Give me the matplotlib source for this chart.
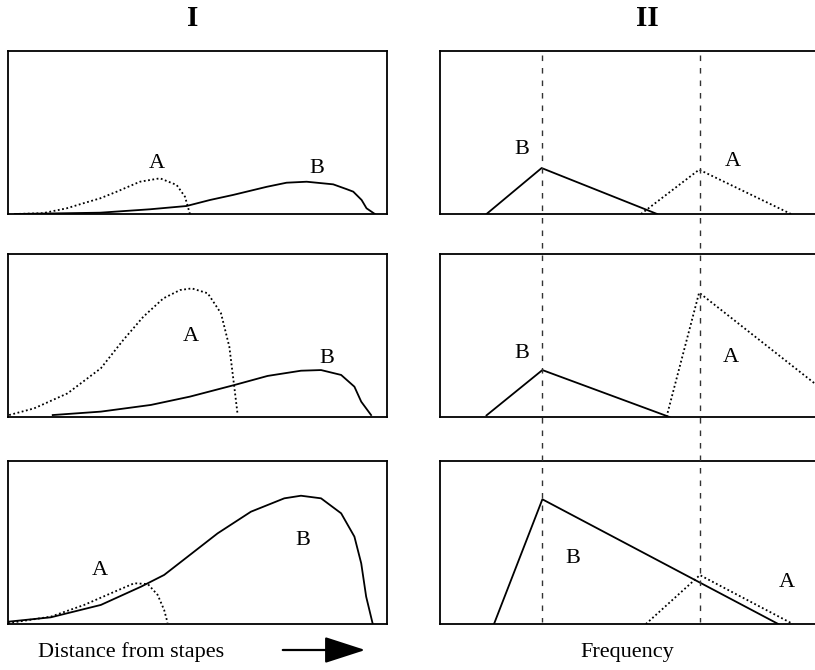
import matplotlib
matplotlib.use("Agg")
import matplotlib.pyplot as plt
import matplotlib.transforms as mtransforms
from matplotlib.lines import Line2D
from matplotlib.patches import FancyArrowPatch

plt.rcParams['font.family'] = ['Liberation Serif', 'DejaVu Serif']

# ---------------- data ----------------
# Panel I (distance along basilar membrane), curves A (dotted) and B (solid)
I1_A_x = [1.8, 9.2, 15.5, 19.9, 24.3, 28.7, 34.8, 40.1, 44.5, 46.7, 48.0]
I1_A_y = [0.0, 0.5, 3.5, 6.6, 9.6, 13.7, 19.8, 21.9, 17.8, 10.6, 0.0]
I1_B_x = [1.8, 24.3, 37.5, 47.1, 53.3, 59.4, 68.3, 73.5, 78.8, 85.8, 89.4, 91.1, 93.3, 94.6, 96.8]
I1_B_y = [0.0, 0.8, 2.9, 4.9, 8.6, 11.7, 16.7, 19.2, 19.8, 18.2, 15.2, 13.7, 8.6, 3.5, 0.0]

I2_A_x = [0.3, 6.9, 15.7, 24.5, 30.4, 35.7, 41.0, 45.4, 48.5, 52.7, 56.2, 58.4, 59.7, 60.6]
I2_A_y = [1.2, 5.3, 14.5, 29.9, 47.2, 61.5, 72.8, 77.9, 78.9, 75.9, 63.6, 43.1, 18.6, 1.2]
I2_B_x = [11.8, 24.5, 37.7, 48.0, 59.7, 68.5, 77.3, 82.6, 87.9, 91.4, 93.2, 95.8]
I2_B_y = [1.2, 3.3, 7.4, 12.5, 19.6, 25.2, 28.4, 28.8, 25.8, 18.6, 9.4, 1.2]

I3_A_x = [0.0, 11.3, 20.1, 27.2, 33.3, 36.9, 39.5, 41.2, 42.1]
I3_A_y = [0.5, 4.5, 11.7, 18.9, 25.0, 24.5, 17.8, 8.6, 0.8]
I3_B_x = [0.0, 11.3, 24.5, 35.1, 41.2, 47.4, 55.3, 64.1, 72.9, 77.3, 82.6, 87.9, 91.4, 93.2, 94.5, 96.2]
I3_B_y = [1.4, 4.1, 11.7, 22.9, 30.1, 41.3, 55.6, 68.9, 77.1, 78.7, 77.1, 67.9, 53.6, 37.2, 16.8, 0.4]

# Panel II (frequency), triangular tuning curves
II1_B_x = [12.4, 27.1, 57.9]
II1_B_y = [0.0, 28.2, 0.0]
II1_A_x = [53.6, 69.1, 93.6]
II1_A_y = [0.0, 27.2, 0.0]

II2_B_x = [12.4, 27.3, 61.2]
II2_B_y = [1.0, 28.8, 0.0]
II2_A_x = [60.4, 69.1, 111.3]
II2_A_y = [0.0, 76.3, 0.0]

II3_B_x = [14.4, 27.3, 90.2]
II3_B_y = [0.0, 76.5, 0.0]
II3_A_x = [54.9, 69.3, 94.1]
II3_A_y = [0.0, 30.0, 0.0]

# best frequencies of B and A (vertical reference lines)
best_freq = [27.2, 69.2]

# label positions (x, y) for "A" and "B"
I_labels = [((39.2, 31.1), (81.5, 28.0)),
            ((48.2, 49.3), (84.1, 36.0)),
            ((24.3, 33.1), (77.8, 51.5))]
II_labels = [((78.0, 32.5), (21.8, 39.3)),
             ((77.6, 36.4), (21.8, 38.8)),
             ((92.4, 25.5), (35.4, 40.0))]

column_titles = ["I", "II"]
xlabels = ["Distance from stapes", "Frequency"]

I_curves = [(I1_A_x, I1_A_y, I1_B_x, I1_B_y),
            (I2_A_x, I2_A_y, I2_B_x, I2_B_y),
            (I3_A_x, I3_A_y, I3_B_x, I3_B_y)]
II_curves = [(II1_A_x, II1_A_y, II1_B_x, II1_B_y),
             (II2_A_x, II2_A_y, II2_B_x, II2_B_y),
             (II3_A_x, II3_A_y, II3_B_x, II3_B_y)]

# ---------------- figure ----------------
W, H = 815, 670
fig = plt.figure(figsize=(W / 100, H / 100), dpi=100)

rows_px = [(51, 214), (254, 417), (461, 624)]
left_px = (8, 387)
right_px = (440, 815)

def add_ax(xpx, ypx):
    x0, x1 = xpx
    t, b = ypx
    return fig.add_axes([x0 / W, 1 - b / H, (x1 - x0) / W, (b - t) / H])

dotted = (0, (1.0, 1.4))
lw = 1.3
fs = 16

left_axes, right_axes = [], []
for r, ypx in enumerate(rows_px):
    axL = add_ax(left_px, ypx)
    axR = add_ax(right_px, ypx)
    for ax in (axL, axR):
        ax.set_xlim(0, 100)
        ax.set_ylim(0, 100)
        ax.set_xticks([])
        ax.set_yticks([])
        for s in ax.spines.values():
            s.set_linewidth(1.3)
            s.set_color('black')
    axR.spines['right'].set_visible(False)

    ax_, ay_, bx_, by_ = I_curves[r]
    axL.plot(ax_, ay_, color='black', lw=lw, ls=dotted, solid_joinstyle='round')
    axL.plot(bx_, by_, color='black', lw=lw, solid_joinstyle='round')
    (pa, pb) = I_labels[r]
    axL.text(pa[0], pa[1], "A", fontsize=fs, ha='center', va='center')
    axL.text(pb[0], pb[1], "B", fontsize=fs, ha='center', va='center')

    ax_, ay_, bx_, by_ = II_curves[r]
    axR.plot(ax_, ay_, color='black', lw=lw, ls=dotted)
    axR.plot(bx_, by_, color='black', lw=lw)
    (pa, pb) = II_labels[r]
    axR.text(pa[0], pa[1], "A", fontsize=fs, ha='center', va='center')
    axR.text(pb[0], pb[1], "B", fontsize=fs, ha='center', va='center')

    left_axes.append(axL)
    right_axes.append(axR)

# vertical dashed lines spanning all right panels
trans = mtransforms.blended_transform_factory(right_axes[0].transData, fig.transFigure)
for f in best_freq:
    fig.add_artist(Line2D([f, f], [1 - 55 / H, 1 - 622 / H], transform=trans,
                          color='#333333', lw=1.0, ls=(0, (4, 5))))

# column titles
fig.text(193 / W, 1 - 18 / H, column_titles[0], fontsize=21, fontweight='bold',
         ha='center', va='center')
fig.text(647 / W, 1 - 18 / H, column_titles[1], fontsize=21, fontweight='bold',
         ha='center', va='center')

# bottom labels
fig.text(131 / W, 1 - 652 / H, xlabels[0], fontsize=16, ha='center', va='center')
fig.text(627 / W, 1 - 652 / H, xlabels[1], fontsize=16, ha='center', va='center')

arrow = FancyArrowPatch((280 / W, 1 - 650 / H), (368 / W, 1 - 650 / H),
                        transform=fig.transFigure,
                        arrowstyle='-|>,head_length=1.7,head_width=0.55',
                        mutation_scale=15, color='black', lw=1.6)
fig.add_artist(arrow)

fig.savefig("out.png", dpi=100)
